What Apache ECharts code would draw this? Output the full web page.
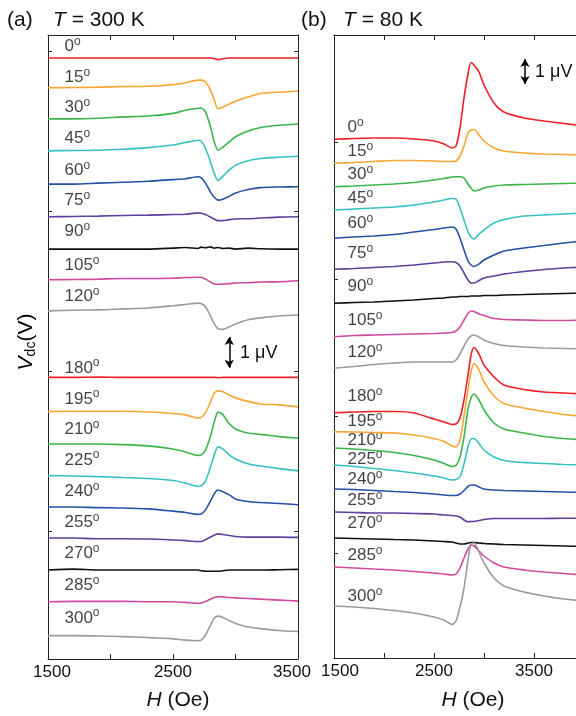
<!DOCTYPE html>
<html>
<head>
<meta charset="utf-8">
<script src="https://cdn.jsdelivr.net/npm/echarts@6/dist/echarts.min.js"></script>
<style>
  html, body { margin: 0; padding: 0; background: #fff; }
  #chart { width: 576px; height: 716px; }
</style>
</head>
<body>
<div id="chart"></div>
<script>
// field angles, same set in both panels
const angles = [0, 15, 30, 45, 60, 75, 90, 105, 120, 180, 195, 210, 225, 240, 255, 270, 285, 300];
const colors = ['#ee1f26', '#f9a531', '#3bb54a', '#35c1c1', '#2251a6', '#5e3f9d', '#111111', '#d04a9f', '#9b9b9b'];

// (a) T = 300 K : H (Oe) grid, baseline of each trace (uV) and shape relative to baseline
const fieldA = [1500, 1700, 1900, 2100, 2300, 2500, 2600, 2700, 2725, 2760, 2800, 2830, 2860, 2900, 2950, 3000, 3100, 3200, 3350, 3500];
const offsetA = [14.78, 13.85, 12.88, 11.88, 10.84, 9.82, 8.81, 7.85, 6.88, 4.80, 3.73, 2.72, 1.73, 0.75, -0.22, -1.22, -2.21, -3.27];
const a000 = [0, 0, 0, 0, 0, 0, 0, 0, 0, 0, 0, -0.02, -0.05, -0.02, 0, 0, 0, 0, 0, 0];
const a015 = [0, 0.01, 0.02, 0.04, 0.05, 0.10, 0.16, 0.24, 0.24, 0.18, -0.07, -0.38, -0.65, -0.60, -0.51, -0.42, -0.29, -0.18, -0.14, -0.10];
const a030 = [0, 0, 0.02, 0.06, 0.09, 0.17, 0.27, 0.33, 0.34, 0.22, -0.25, -0.72, -0.98, -0.88, -0.72, -0.56, -0.38, -0.27, -0.20, -0.16];
const a045 = [0, 0.01, 0.02, 0.05, 0.10, 0.18, 0.26, 0.33, 0.30, 0.08, -0.35, -0.70, -0.93, -0.79, -0.60, -0.45, -0.31, -0.24, -0.20, -0.17];
const a060 = [0, 0, 0.03, 0.06, 0.09, 0.14, 0.17, 0.23, 0.20, 0.03, -0.25, -0.41, -0.50, -0.47, -0.38, -0.28, -0.17, -0.11, -0.09, -0.08];
const a075 = [0, 0.01, 0.02, 0.04, 0.05, 0.07, 0.08, 0.12, 0.11, 0.07, -0.01, -0.07, -0.12, -0.12, -0.09, -0.07, -0.06, -0.04, -0.01, 0];
const a090 = [0, 0, 0, 0, 0, 0.03, 0.05, 0.02, 0.06, 0.04, 0.07, 0.03, 0.05, 0.02, 0.03, 0, 0.03, 0.01, 0, 0];
const a105 = [0, 0.01, 0.02, 0.04, 0.04, 0.05, 0.07, 0.08, 0.08, 0.02, -0.07, -0.13, -0.14, -0.13, -0.12, -0.10, -0.09, -0.07, -0.06, -0.03];
const a120 = [0, 0.02, 0.03, 0.06, 0.09, 0.16, 0.20, 0.24, 0.23, 0.13, -0.16, -0.41, -0.56, -0.58, -0.50, -0.41, -0.28, -0.22, -0.16, -0.13];
const a180 = [0, 0, 0.01, 0, 0, 0, 0, 0, 0, 0, 0, 0, -0.01, 0, 0, 0, 0, 0, 0, 0];
const a195 = [0, 0.01, 0.01, 0.01, -0.01, -0.06, -0.10, -0.20, -0.18, -0.03, 0.30, 0.58, 0.65, 0.62, 0.52, 0.43, 0.32, 0.24, 0.21, 0.15];
const a210 = [0, 0, 0, -0.02, -0.06, -0.16, -0.25, -0.36, -0.34, -0.19, 0.25, 0.69, 1.00, 0.91, 0.63, 0.47, 0.34, 0.30, 0.23, 0.18];
const a225 = [0, -0.01, -0.03, -0.06, -0.09, -0.15, -0.23, -0.34, -0.32, -0.17, 0.27, 0.65, 0.90, 0.83, 0.65, 0.52, 0.37, 0.30, 0.22, 0.15];
const a240 = [0, 0, -0.02, -0.03, -0.06, -0.13, -0.17, -0.23, -0.22, -0.09, 0.19, 0.41, 0.53, 0.48, 0.38, 0.25, 0.17, 0.14, 0.11, 0.07];
const a255 = [0, 0, -0.02, -0.02, -0.03, -0.06, -0.08, -0.11, -0.11, -0.05, 0.03, 0.09, 0.13, 0.11, 0.08, 0.05, 0.03, 0.03, 0.03, 0.02];
const a270 = [0, 0.03, 0, 0, 0, 0, 0, 0, -0.02, -0.04, -0.04, -0.04, -0.04, -0.02, 0, 0, 0, 0, 0.01, 0.02];
const a285 = [0, 0.01, 0.01, 0.01, 0, 0, -0.02, -0.05, -0.04, 0.01, 0.08, 0.13, 0.16, 0.15, 0.13, 0.12, 0.10, 0.08, 0.05, 0.02];
const a300 = [0, 0, -0.01, -0.03, -0.06, -0.10, -0.14, -0.16, -0.14, 0.02, 0.33, 0.55, 0.61, 0.57, 0.47, 0.38, 0.27, 0.22, 0.16, 0.13];
const shapesA = [a000, a015, a030, a045, a060, a075, a090, a105, a120, a180, a195, a210, a225, a240, a255, a270, a285, a300];

// (b) T = 80 K
const fieldB = [1500, 1700, 1900, 2100, 2300, 2500, 2600, 2680, 2720, 2760, 2800, 2840, 2870, 2900, 2950, 3000, 3100, 3200, 3400, 3600, 3800, 4000];
const offsetB = [20.75, 19.79, 18.85, 17.92, 16.79, 15.55, 14.19, 12.85, 11.59, 9.81, 9.05, 8.40, 7.72, 6.76, 5.84, 4.80, 3.64, 2.08];
const b000 = [0, 0.03, 0.05, 0.05, 0.01, -0.07, -0.19, -0.35, -0.27, 0.45, 1.65, 2.61, 3.07, 2.97, 2.69, 2.17, 1.45, 1.09, 0.85, 0.73, 0.63, 0.53];
const b015 = [0, 0.03, 0.07, 0.11, 0.11, 0.09, 0.07, 0.07, 0.09, 0.29, 0.69, 1.21, 1.33, 1.35, 1.13, 0.89, 0.61, 0.49, 0.41, 0.37, 0.35, 0.33];
const b030 = [0, 0.03, 0.07, 0.11, 0.17, 0.27, 0.33, 0.39, 0.40, 0.40, 0.35, 0.11, -0.05, -0.17, -0.13, -0.05, 0.03, 0.07, 0.09, 0.11, 0.13, 0.15];
const b045 = [0, 0.04, 0.08, 0.12, 0.20, 0.32, 0.40, 0.46, 0.44, 0.08, -0.40, -0.88, -1.08, -1.16, -0.96, -0.80, -0.52, -0.38, -0.24, -0.20, -0.16, -0.12];
const b060 = [0, 0.05, 0.09, 0.15, 0.25, 0.35, 0.41, 0.45, 0.37, 0.01, -0.47, -0.91, -1.07, -1.13, -1.03, -0.87, -0.67, -0.51, -0.39, -0.29, -0.19, -0.11];
const b075 = [0, 0.03, 0.07, 0.11, 0.17, 0.25, 0.29, 0.30, 0.27, 0.13, -0.15, -0.43, -0.55, -0.55, -0.45, -0.35, -0.27, -0.19, -0.09, -0.01, 0.05, 0.09];
const b090 = [0, 0.03, 0.05, 0.09, 0.13, 0.19, 0.21, 0.25, 0.25, 0.27, 0.27, 0.27, 0.29, 0.29, 0.29, 0.31, 0.31, 0.33, 0.35, 0.37, 0.39, 0.41];
const b105 = [0, 0.05, 0.07, 0.09, 0.11, 0.13, 0.15, 0.17, 0.23, 0.39, 0.67, 0.93, 1.03, 1.01, 0.91, 0.85, 0.73, 0.69, 0.67, 0.65, 0.65, 0.67];
const b120 = [0, 0.07, 0.15, 0.21, 0.25, 0.25, 0.25, 0.25, 0.33, 0.57, 0.89, 1.17, 1.29, 1.33, 1.25, 1.13, 0.99, 0.91, 0.85, 0.81, 0.79, 0.77];
const b180 = [0, 0.03, 0.05, 0.05, -0.01, -0.25, -0.37, -0.47, -0.45, -0.21, 0.51, 1.51, 2.31, 2.61, 2.35, 1.91, 1.43, 1.11, 0.93, 0.83, 0.79, 0.75];
const b195 = [0, -0.01, -0.03, -0.05, -0.13, -0.27, -0.39, -0.57, -0.61, -0.33, 0.63, 1.67, 2.39, 2.73, 2.47, 1.99, 1.43, 1.13, 0.95, 0.81, 0.69, 0.61];
const b210 = [0, -0.04, -0.10, -0.18, -0.30, -0.48, -0.62, -0.74, -0.70, -0.36, 0.44, 1.56, 2.00, 2.16, 1.92, 1.52, 1.00, 0.76, 0.60, 0.46, 0.38, 0.32];
const b225 = [0, -0.06, -0.14, -0.22, -0.32, -0.44, -0.52, -0.60, -0.58, -0.46, 0.04, 0.72, 1.04, 1.06, 0.86, 0.60, 0.32, 0.18, 0.10, 0.06, 0.02, 0];
const b240 = [0, -0.02, -0.06, -0.10, -0.14, -0.20, -0.24, -0.26, -0.26, -0.20, -0.06, 0.10, 0.16, 0.16, 0.08, 0, -0.04, -0.06, -0.08, -0.10, -0.12, -0.14];
const b255 = [0, -0.02, -0.04, -0.04, -0.06, -0.08, -0.12, -0.14, -0.16, -0.20, -0.32, -0.39, -0.38, -0.38, -0.34, -0.30, -0.26, -0.26, -0.26, -0.26, -0.25, -0.25];
const b270 = [0, -0.02, -0.04, -0.06, -0.08, -0.12, -0.14, -0.16, -0.20, -0.24, -0.24, -0.20, -0.18, -0.18, -0.20, -0.22, -0.24, -0.26, -0.28, -0.30, -0.32, -0.34];
const b285 = [0, -0.04, -0.08, -0.12, -0.18, -0.24, -0.28, -0.32, -0.28, -0.04, 0.36, 0.72, 0.88, 0.84, 0.64, 0.44, 0.16, 0, -0.12, -0.20, -0.26, -0.32];
const b300 = [0, -0.04, -0.10, -0.18, -0.28, -0.44, -0.56, -0.74, -0.60, -0.04, 0.72, 1.84, 2.48, 2.52, 2.16, 1.72, 1.12, 0.80, 0.56, 0.40, 0.28, 0.20];
const shapesB = [b000, b015, b030, b045, b060, b075, b090, b105, b120, b180, b195, b210, b225, b240, b255, b270, b285, b300];

// axis ticks
const xTicks = [1500, 2500, 3500];
const yTicksA = [0, 5, 10, 15];
const yTicksB = [4.2, 9.68, 15.16, 20.64];

// 1 uV scale bars [H, from, to]
const barA = [2950, 5.1, 6.06];
const barB = [3410, 22.96, 23.96];

// label offsets in px (layout only)
const labelDyA = [-11, -10, -11, -12, -13, -16, -17, -14, -14, -9, -12, -14, -15, -15, -15, -16, -16, -17];
const labelDyB = [-11, -11, -12, -11, -14, -15, -16, -16, -15, -16, -10, -7, -5, -9, -11, -14, -11, -9];

const FONT = '"Liberation Sans", Arial, Helvetica, sans-serif';
const AX = '#222';

function xAxis(grid, pos, max, labels, shiftLast) {
  return {
    type: 'value', gridIndex: grid, position: pos, min: 1500, max: max, interval: 500,
    axisLine: { show: true, onZero: false, lineStyle: { color: AX, width: 1 } },
    axisTick: { show: true, inside: true, length: 5, lineStyle: { color: AX } },
    axisLabel: {
      show: labels, margin: 5, color: '#111', fontFamily: FONT, fontSize: 17,
      formatter: v => {
        if (xTicks.indexOf(v) < 0) return '';
        if (v === 1500) return '{f|' + v + '}';
        if (v === 3500 && shiftLast) return '{l|' + v + '}';
        return String(v);
      },
      rich: {
        f: { fontFamily: FONT, fontSize: 17, color: '#111', padding: [0, 0, 0, grid ? 12 : 8] },
        l: { fontFamily: FONT, fontSize: 17, color: '#111', padding: [0, 12, 0, 0] }
      }
    },
    splitLine: { show: false }
  };
}

function yAxis(grid, pos, min, max, ticks) {
  return {
    type: 'value', gridIndex: grid, position: pos, min: min, max: max,
    axisLine: { show: true, onZero: false, lineStyle: { color: AX, width: 1 } },
    axisTick: { show: true, inside: true, length: 4, customValues: ticks, lineStyle: { color: AX } },
    axisLabel: { show: false },
    splitLine: { show: false }
  };
}

function traces(field, offsets, shapes, xi, yi) {
  return shapes.map((s, i) => ({
    type: 'line', xAxisIndex: xi, yAxisIndex: yi,
    data: field.map((h, k) => [h, +(offsets[i] + s[k]).toFixed(3)]),
    showSymbol: false, symbol: 'none', smooth: 0.25, silent: true,
    lineStyle: { color: colors[i % 9], width: 1.6 },
    itemStyle: { color: colors[i % 9] }
  }));
}

function labels(field, offsets, dx, dys, xi, yi) {
  return {
    type: 'scatter', xAxisIndex: xi, yAxisIndex: yi, symbolSize: 1, silent: true,
    itemStyle: { color: 'transparent' },
    data: angles.map((a, i) => ({ value: [field[0], offsets[i]], label: { position: [dx, dys[i]] } })),
    label: {
      show: true, align: 'left', verticalAlign: 'middle',
      formatter: p => '{n|' + angles[p.dataIndex] + '}{o|o}',
      rich: {
        n: { fontFamily: FONT, fontSize: 17, lineHeight: 18, color: '#111' },
        // bottom padding lifts the small "o" into superscript position
        o: { fontFamily: FONT, fontSize: 12, lineHeight: 12, padding: [0, 0, 10, 0], color: '#111' }
      }
    }
  };
}

function scaleBar(bar, xi, yi) {
  return {
    type: 'line', xAxisIndex: xi, yAxisIndex: yi, data: [], silent: true,
    lineStyle: { color: '#000' }, itemStyle: { color: '#000' },
    markLine: {
      silent: true, symbol: ['arrow', 'arrow'], symbolSize: [7, 8],
      lineStyle: { color: '#000', width: 1.5, type: 'solid' },
      label: { show: false },
      data: [[{ coord: [bar[0], bar[1]] }, { coord: [bar[0], bar[2]] }]]
    }
  };
}

const titleRich = {
  i: { fontFamily: FONT, fontSize: 21, fontStyle: 'italic', color: '#111' },
  n: { fontFamily: FONT, fontSize: 21, color: '#111' }
};

function txt(x, y, text, rich, align) {
  return {
    type: 'text', x: x, y: y, silent: true,
    style: { text: text, rich: rich, fontFamily: FONT, fontSize: 21, fill: '#111', align: align || 'left', verticalAlign: 'middle' }
  };
}

const chart = echarts.init(document.getElementById('chart'));
chart.setOption({
  animation: false,
  backgroundColor: '#fff',
  grid: [
    { left: 48, right: 278, top: 35, bottom: 57, outerBoundsMode: 'none' },
    { left: 334, right: -8, top: 35, bottom: 58, outerBoundsMode: 'none' }
  ],
  xAxis: [
    xAxis(0, 'bottom', 3500, true, true), xAxis(0, 'top', 3500, false, false),
    xAxis(1, 'bottom', 4000, true, false), xAxis(1, 'top', 4000, false, false)
  ],
  yAxis: [
    yAxis(0, 'left', -4, 15.5, yTicksA), yAxis(0, 'right', -4, 15.5, yTicksA),
    yAxis(1, 'left', 0, 24.92, yTicksB), yAxis(1, 'right', 0, 24.92, yTicksB)
  ],
  series: [].concat(
    traces(fieldA, offsetA, shapesA, 0, 0),
    traces(fieldB, offsetB, shapesB, 2, 2),
    [labels(fieldA, offsetA, 17, labelDyA, 0, 0), labels(fieldB, offsetB, 14, labelDyB, 2, 2),
     scaleBar(barA, 0, 0), scaleBar(barB, 2, 2)]
  ),
  graphic: [
    txt(7, 20, '(a)', null),
    txt(53, 20, '{i|T}{n| = 300 K}', titleRich),
    txt(301, 20, '(b)', null),
    txt(343, 20, '{i|T}{n| = 80 K}', titleRich),
    txt(178, 700, '{i|H}{n| (Oe)}', titleRich, 'center'),
    txt(473, 700, '{i|H}{n| (Oe)}', titleRich, 'center'),
    {
      type: 'text', x: 26, y: 342, rotation: Math.PI / 2, silent: true,
      style: {
        text: '{v|V}{s|dc}{n|(V)}', align: 'center', verticalAlign: 'middle',
        rich: {
          v: { fontFamily: FONT, fontSize: 21, fontStyle: 'italic', lineHeight: 24, color: '#111' },
          s: { fontFamily: FONT, fontSize: 14, lineHeight: 14, verticalAlign: 'bottom', color: '#111' },
          n: { fontFamily: FONT, fontSize: 21, lineHeight: 24, color: '#111' }
        }
      }
    },
    {
      type: 'text', x: 240, y: 353, silent: true,
      style: { text: '1 \u03bcV', fontFamily: FONT, fontSize: 18, fill: '#111', align: 'left', verticalAlign: 'middle' }
    },
    {
      type: 'text', x: 535, y: 72, silent: true,
      style: { text: '1 \u03bcV', fontFamily: FONT, fontSize: 18, fill: '#111', align: 'left', verticalAlign: 'middle' }
    }
  ]
});
</script>
</body>
</html>
